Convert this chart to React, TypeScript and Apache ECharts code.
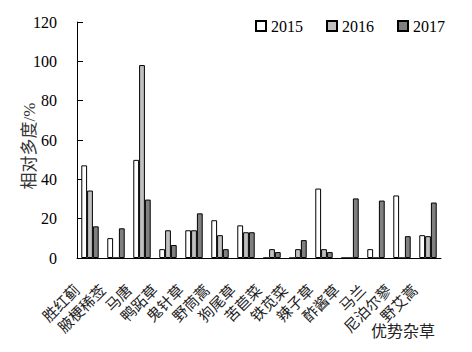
import React, { useEffect, useRef } from "react";
import * as echarts from "echarts";

const categories = ["胜红蓟", "腋梗稀莶", "马唐", "鸭跖草", "鬼针草", "野茼蒿", "狗尾草", "苦苣菜", "铁苋菜", "辣子草", "酢酱草", "马兰", "尼泊尔蓼", "野艾蒿"];
const s2015 = [47.1, 10.1, 49.9, 4.5, 14.1, 19.2, 16.6, 0, 0, 35.3, 0, 4.5, 31.8, 11.6];
const s2016 = [34.3, 0, 98.1, 14.1, 14.1, 11.6, 13.1, 4.5, 4.5, 4.5, 0, 0, 0, 11.1];
const s2017 = [16.1, 15.1, 29.7, 6.6, 22.7, 4.5, 13.1, 3.0, 9.1, 3.0, 30.3, 29.2, 11.1, 28.2];
const seriesNames = ["2015", "2016", "2017"];
const seriesColors = ["#ffffff", "#c0c0c0", "#808080"];
const yTicks = { min: 0, max: 120, interval: 20 };
const xAxisTitle = "优势杂草";
const yAxisTitle = "相对多度/%";

const SERIF = "'Liberation Serif', 'Times New Roman', 'Noto Sans CJK SC', serif";

export default function App() {
  const ref = useRef<HTMLDivElement>(null);
  useEffect(() => {
    if (!ref.current) return;
    const chart = echarts.init(ref.current, undefined, { renderer: "svg" });
    const data = [s2015, s2016, s2017];
    chart.setOption({
      animation: false,
      backgroundColor: "#ffffff",
      textStyle: { fontFamily: SERIF, color: "#000" },
      legend: {
        left: 250,
        top: 13,
        itemWidth: 10,
        itemHeight: 10,
        itemGap: 23,
        icon: "rect",
        textStyle: { fontFamily: SERIF, fontSize: 16, color: "#000" },
        data: seriesNames,
      },
      grid: { left: 77, right: 31, top: 22, bottom: 94, containLabel: false },
      graphic: [
        {
          type: "text",
          x: 435,
          y: 331,
          style: {
            text: xAxisTitle,
            font: "16px " + SERIF,
            fill: "#222",
            align: "right",
            verticalAlign: "middle",
          },
        },
        {
          type: "text",
          x: 29,
          y: 146,
          rotation: Math.PI / 2,
          style: {
            text: yAxisTitle,
            font: "17px " + SERIF,
            fill: "#333",
            align: "center",
            verticalAlign: "middle",
          },
        },
      ],
      xAxis: {
        type: "category",
        data: categories,
        boundaryGap: true,
        axisLine: { lineStyle: { color: "#000", width: 1 } },
        axisTick: { inside: true, length: 6, interval: 0, lineStyle: { color: "#000" } },
        axisLabel: {
          interval: 0,
          rotate: 45,
          margin: 17,
          fontSize: 15,
          color: "#222",
          fontFamily: SERIF,
          padding: [0, 18, 0, 0],
        },
        splitLine: { show: false },
      },
      yAxis: {
        type: "value",
        min: yTicks.min,
        max: yTicks.max,
        interval: yTicks.interval,
        axisLine: { show: true, lineStyle: { color: "#000", width: 1 } },
        axisTick: { show: true, inside: true, length: 6, lineStyle: { color: "#000" } },
        axisLabel: { fontSize: 16, color: "#000", margin: 20, fontFamily: SERIF },
        splitLine: { show: false },
      },
      series: seriesNames.map((name, i) => ({
        name,
        type: "bar",
        data: data[i],
        barGap: "0%",
        barCategoryGap: "33%",
        itemStyle: { color: seriesColors[i], borderColor: "#000", borderWidth: 1 },
      })),
    });
    return () => chart.dispose();
  }, []);
  return (
    <div style={{ position: "fixed", left: 0, top: 0, width: 472, height: 352, background: "#fff" }}>
      <div ref={ref} style={{ width: 472, height: 352 }} />
    </div>
  );
}
